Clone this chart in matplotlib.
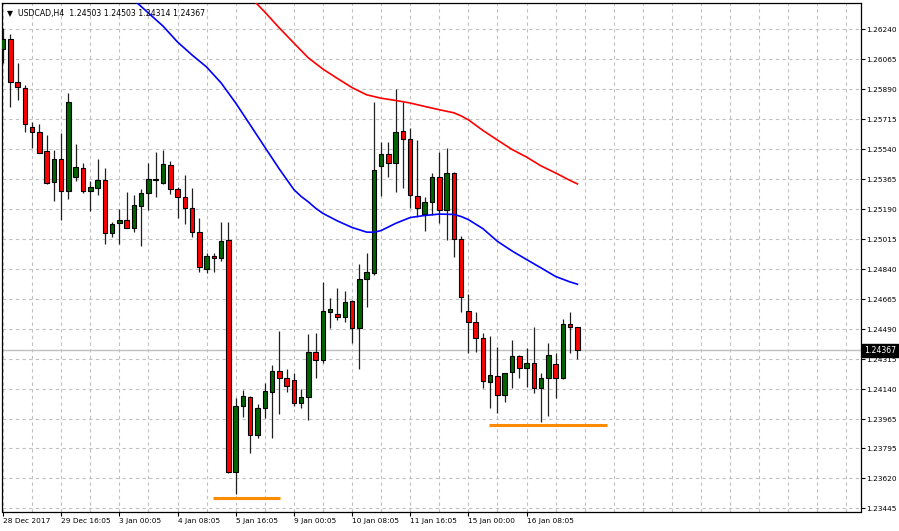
import matplotlib.pyplot as plt
import matplotlib.transforms as mtransforms

# USDCAD H4 candles
opens = [1.26125, 1.26182, 1.25931, 1.25896, 1.25672, 1.25643, 1.25530, 1.25348, 1.25482, 1.25297,
         1.25380, 1.25433, 1.25297, 1.25316, 1.25361, 1.25050, 1.25108, 1.25126, 1.25083, 1.25209,
         1.25283, 1.25363, 1.25345, 1.25449, 1.25307, 1.25260, 1.25199, 1.25056, 1.24840, 1.24919,
         1.24903, 1.25009, 1.23659, 1.24044, 1.24093, 1.23874, 1.24029, 1.24127, 1.24244, 1.24208,
         1.24194, 1.24058, 1.24093, 1.24359, 1.24311, 1.24589, 1.24579, 1.24564, 1.24655, 1.24496,
         1.24782, 1.24820, 1.25444, 1.25513, 1.25458, 1.25647, 1.25598, 1.25269, 1.25163, 1.25230,
         1.25380, 1.25183, 1.25400, 1.25015, 1.24599, 1.24534, 1.24441, 1.24184, 1.24218, 1.24107,
         1.24243, 1.24334, 1.24263, 1.24295, 1.24149, 1.24204, 1.24288, 1.24204, 1.24521, 1.24503]
highs = [1.26248, 1.26213, 1.26042, 1.25915, 1.25701, 1.25688, 1.25624, 1.25536, 1.25637, 1.25870,
         1.25571, 1.25462, 1.25357, 1.25484, 1.25429, 1.25114, 1.25190, 1.25293, 1.25274, 1.25309,
         1.25462, 1.25526, 1.25536, 1.25472, 1.25322, 1.25388, 1.25313, 1.25142, 1.24937, 1.24937,
         1.25118, 1.25118, 1.24088, 1.24136, 1.24101, 1.24054, 1.24179, 1.24279, 1.24480, 1.24257,
         1.24233, 1.24140, 1.24463, 1.24467, 1.24764, 1.24671, 1.24729, 1.24715, 1.24661, 1.24869,
         1.24933, 1.25818, 1.25581, 1.25581, 1.25890, 1.25818, 1.25663, 1.25594, 1.25264, 1.25400,
         1.25526, 1.25546, 1.25405, 1.25034, 1.24696, 1.24593, 1.24470, 1.24453, 1.24389, 1.24235,
         1.24428, 1.24340, 1.24379, 1.24505, 1.24233, 1.24412, 1.24350, 1.24548, 1.24589, 1.24503]
lows = [1.26042, 1.25789, 1.25828, 1.25643, 1.25549, 1.25517, 1.25336, 1.25240, 1.25128, 1.25248,
        1.25355, 1.25283, 1.25182, 1.25274, 1.24988, 1.25030, 1.24988, 1.25079, 1.25056, 1.24976,
        1.25186, 1.25264, 1.25336, 1.25278, 1.25141, 1.25103, 1.25030, 1.24826, 1.24817, 1.24823,
        1.24889, 1.23650, 1.23532, 1.23981, 1.23767, 1.23854, 1.23970, 1.23856, 1.23996, 1.24123,
        1.24044, 1.24029, 1.23961, 1.24208, 1.24295, 1.24496, 1.24544, 1.24534, 1.24408, 1.24257,
        1.24622, 1.24807, 1.25268, 1.25380, 1.25293, 1.25316, 1.25196, 1.25147, 1.25065, 1.25157,
        1.25112, 1.25011, 1.24914, 1.24593, 1.24350, 1.24359, 1.24146, 1.24033, 1.24004, 1.24064,
        1.24146, 1.24204, 1.24155, 1.24120, 1.23951, 1.23984, 1.24091, 1.24200, 1.24350, 1.24314]
closes = [1.26184, 1.25931, 1.25902, 1.25688, 1.25643, 1.25520, 1.25345, 1.25482, 1.25297, 1.25814,
          1.25435, 1.25297, 1.25318, 1.25361, 1.25050, 1.25104, 1.25126, 1.25083, 1.25215, 1.25283,
          1.25365, 1.25366, 1.25454, 1.25307, 1.25260, 1.25199, 1.25056, 1.24855, 1.24919, 1.24904,
          1.25005, 1.23659, 1.24044, 1.24101, 1.23874, 1.24029, 1.24130, 1.24244, 1.24208, 1.24161,
          1.24058, 1.24093, 1.24359, 1.24311, 1.24597, 1.24607, 1.24564, 1.24648, 1.24496, 1.24782,
          1.24823, 1.25419, 1.25513, 1.25458, 1.25639, 1.25598, 1.25274, 1.25199, 1.25233, 1.25380,
          1.25183, 1.25400, 1.25014, 1.24680, 1.24531, 1.24441, 1.24189, 1.24224, 1.24107, 1.24233,
          1.24334, 1.24263, 1.24295, 1.24149, 1.24204, 1.24340, 1.24204, 1.24521, 1.24502, 1.24367]

# moving averages (bar index, value)
ma_fast_idx = [18, 20, 22, 24, 26, 28, 30, 32, 34, 36, 38, 40, 41, 42, 43, 44, 46, 48, 50, 51, 52, 54,
               56, 58, 60, 62, 63, 64, 66, 68, 70, 72, 74, 76, 78, 79]
ma_fast = [1.26411, 1.26335, 1.26259, 1.26166, 1.26090, 1.26020, 1.25927, 1.25810, 1.25682, 1.25553,
           1.25425, 1.25305, 1.25265, 1.25233, 1.25196, 1.25166, 1.25122, 1.25084, 1.25057, 1.25056,
           1.25066, 1.25108, 1.25142, 1.25154, 1.25162, 1.25160, 1.25148, 1.25130, 1.25077, 1.25003,
           1.24947, 1.24897, 1.24848, 1.24798, 1.24766, 1.24753]
ma_slow_idx = [34, 36, 38, 40, 42, 44, 46, 48, 50, 52, 54, 56, 58, 60, 62, 63, 64, 66, 68, 70, 72,
               74, 76, 78, 79]
ma_slow = [1.26429, 1.26341, 1.26248, 1.26160, 1.26073, 1.26008, 1.25953, 1.25900, 1.25858, 1.25838,
           1.25825, 1.25810, 1.25790, 1.25771, 1.25753, 1.25735, 1.25712, 1.25650, 1.25594, 1.25539,
           1.25495, 1.25443, 1.25402, 1.25358, 1.25338]

# support lines drawn on the chart
support_levels = [1.23504, 1.23932]
support_from = [28.9, 66.9]
support_to = [38.1, 83.1]

last_price = 1.24367

xtick_idx = [0, 8, 16, 24, 32, 40, 48, 56, 64, 72]
xtick_labels = ['28 Dec 2017', '29 Dec 16:05', '3 Jan 00:05', '4 Jan 08:05', '5 Jan 16:05',
                '9 Jan 00:05', '10 Jan 08:05', '11 Jan 16:05', '15 Jan 00:00', '16 Jan 08:05']
ytick_labels = ['1.26240', '1.26065', '1.25890', '1.25715', '1.25540', '1.25365', '1.25190',
                '1.25015', '1.24840', '1.24665', '1.24490', '1.24315', '1.24140', '1.23965',
                '1.23795', '1.23620', '1.23445']

fig = plt.figure(figsize=(8.99, 5.31), dpi=100)
ax = fig.add_axes([2 / 899, 19.5 / 531, 859 / 899, 508.5 / 531])

n = len(opens)
idx = list(range(n))

# grid
for k in range(0, 120, 4):
    ax.axvline(k, color='#c0c0c0', lw=0.8, ls=(0, (3, 3)), zorder=0)
for t in ytick_labels:
    ax.axhline(float(t), color='#c0c0c0', lw=0.8, ls=(0, (3, 3)), zorder=0)

ax.axhline(last_price, color='#c0c0c0', lw=1.0, zorder=1)

# candles
ax.vlines(idx, lows, highs, color='#202020', lw=0.9, zorder=2)
for i in idx:
    o, c = opens[i], closes[i]
    col = '#006400' if c >= o else '#ff0000'
    h = max(abs(c - o), 0.00002)
    ax.bar(i, h, bottom=min(o, c), width=0.62, color=col, edgecolor='black',
           linewidth=0.8, zorder=3)

ax.plot(ma_fast_idx, ma_fast, color='#0000ff', lw=1.2, zorder=4)
ax.plot(ma_slow_idx, ma_slow, color='#ff0000', lw=1.2, zorder=4)

for lvl, a, b in zip(support_levels, support_from, support_to):
    ax.plot([a, b], [lvl, lvl], color='#ff8c00', lw=2.2, solid_capstyle='butt', zorder=4)

ax.set_xlim(-0.14, 118.0)
ax.set_ylim(1.23427, 1.263935)

ax.set_xticks(xtick_idx)
ax.set_xticklabels(xtick_labels, fontsize=5.3, ha='left')
ax.tick_params(axis='x', length=3, width=0.8, pad=1.5)
ax.yaxis.tick_right()
ax.set_yticks([float(t) for t in ytick_labels])
ax.set_yticklabels(ytick_labels, fontsize=5.3)
ax.tick_params(axis='y', length=3, width=0.8, pad=1.0)
for lbl in ax.get_xticklabels():
    lbl.set_horizontalalignment('left')
for s in ax.spines.values():
    s.set_linewidth(0.9)
    s.set_color('black')

# current price tag
trans = mtransforms.blended_transform_factory(ax.transAxes, ax.transData)
ax.text(1.0035, last_price, '1.24367', transform=trans, fontsize=5.6, color='white',
        va='center', ha='left', clip_on=False, zorder=10,
        bbox=dict(boxstyle='square,pad=0.3', fc='black', ec='black'))

ax.text(0.006, 0.988, '\u25bc  USDCAD,H4  1.24503 1.24503 1.24314 1.24367', transform=ax.transAxes,
        fontsize=5.6, va='top', ha='left', color='black', zorder=10)

fig.savefig('out.png', dpi=100, facecolor='white')
